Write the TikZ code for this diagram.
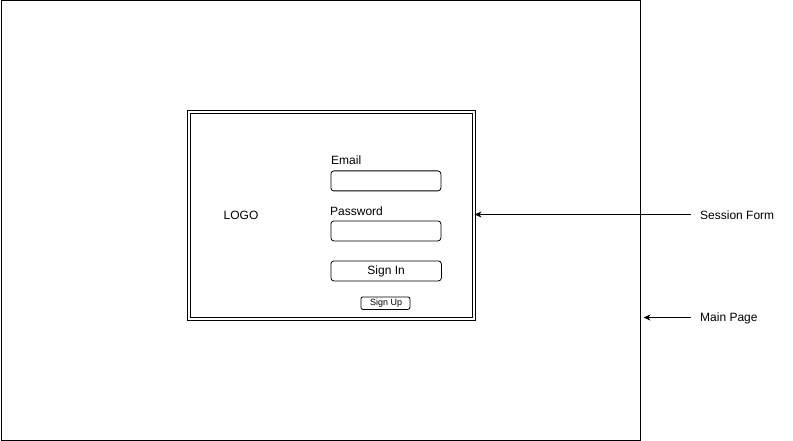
\documentclass[tikz,border=0pt]{standalone}
\usepackage{fontspec}
\setmainfont{Liberation Sans}
\usetikzlibrary{arrows.meta}
\begin{document}
\begin{tikzpicture}[x=1pt,y=-1pt,
  field/.style={draw,line width=0.8pt,rounded corners=3pt,minimum width=110pt,minimum height=20pt,inner sep=0pt},
  lbl/.style={inner sep=0pt,anchor=base west,font=\fontsize{12}{14}\selectfont},
  note/.style={inner sep=0pt,anchor=west,font=\fontsize{12}{14}\selectfont},
  arr/.style={draw,line width=0.8pt,-{Stealth[length=7pt,width=6pt]}}]
\useasboundingbox (0,0) rectangle (793,441);
\node[draw,line width=1pt,minimum width=639pt,minimum height=439pt,inner sep=0pt,anchor=north west] (main) at (0.5,0.5) {};
\node[draw,line width=0.9pt,double,double distance=1.6pt,minimum width=285pt,minimum height=207pt,inner sep=0pt,anchor=north west] (form) at (188.7,111.4) {};
\node[inner sep=0pt,font=\fontsize{12}{14}\selectfont] (logo) at (241,215) {LOGO};
\node[lbl] (emaillbl) at (331,165) {Email};
\node[field,anchor=north west] (email) at (330.5,170.5) {};
\node[lbl] (pwlbl) at (330,215) {Password};
\node[field,anchor=north west] (pw) at (330.5,220.5) {};
\node[field,anchor=north west,minimum width=110.5pt,font=\fontsize{12}{14}\selectfont] (signin) at (330.5,260.5) {Sign In};
\node[draw,line width=0.8pt,rounded corners=2pt,minimum width=49pt,minimum height=12.5pt,inner sep=0pt,anchor=north west,font=\fontsize{9}{10}\selectfont] (signup) at (360.5,296.5) {\,Sign Up};
\node[note] (sf) at (700,215) {Session Form};
\node[note] (mp) at (700,318) {Main Page};
\coordinate (sfa) at (691,214.5);
\coordinate (mpa) at (691,317.5);
\draw[arr] (sfa) -- (form.east |- sfa);
\draw[arr] (mpa) -- ([xshift=3pt]main.east |- mpa);
\end{tikzpicture}
\end{document}
